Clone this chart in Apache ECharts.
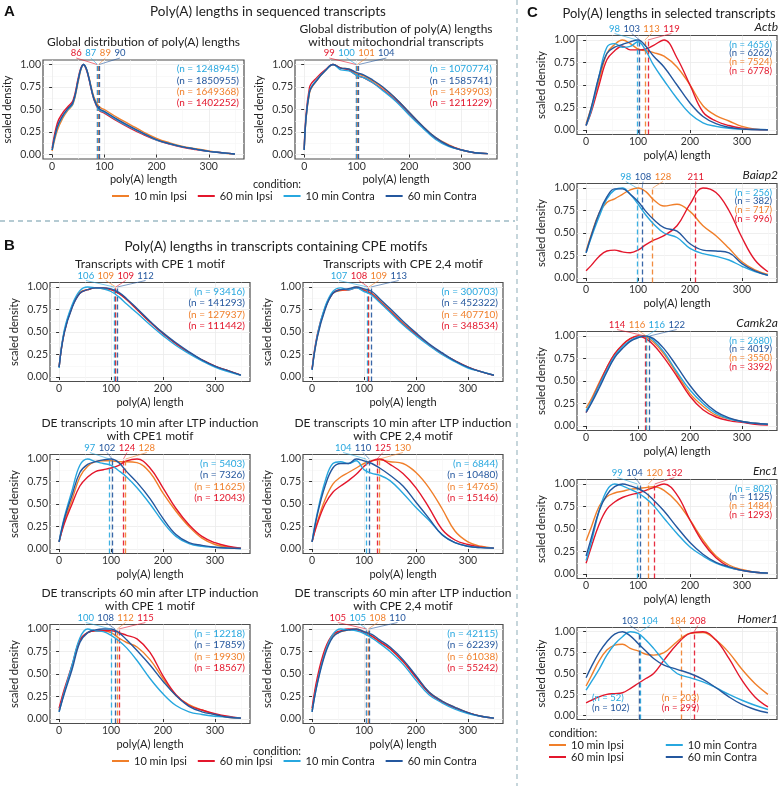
<!DOCTYPE html>
<html>
<head>
<meta charset="utf-8">
<title>Poly(A) lengths</title>
<script src="https://cdn.jsdelivr.net/npm/echarts@6.0.0/dist/echarts.min.js"></script>
<style>
  html, body { margin: 0; padding: 0; background: #fff; }
  #main { width: 782px; height: 786px; }
</style>
</head>
<body>
<div id="main"></div>
<script>
// conditions, in the order used by every array below
var CONDITIONS = ['10 min Ipsi', '60 min Ipsi', '10 min Contra', '60 min Contra'];
var COLORS = ['#F07F2A', '#E3172C', '#27A7DF', '#24579E'];

// poly(A) length grid
var XA1 = [0, 10, 20, 30, 40, 50, 55, 60, 65, 70, 80, 90, 100, 125, 150, 175, 200, 225, 250, 275, 300, 325, 350];
var X = [0, 10, 25, 40, 55, 70, 85, 100, 115, 130, 150, 175, 200, 225, 250, 275, 300, 325, 350];

var Y_TICKS = [0, 0.25, 0.5, 0.75, 1];
var Y_MINOR = [0.125, 0.375, 0.625, 0.875];
var X_TICKS = [0, 100, 200, 300];

// scaled density, rows: 10 Ipsi, 60 Ipsi, 10 Contra, 60 Contra
var globalAll = [
  [0.04, 0.27, 0.40, 0.49, 0.56, 0.81, 0.94, 1.00, 0.96, 0.87, 0.64, 0.53, 0.50, 0.41, 0.33, 0.25, 0.18, 0.13, 0.09, 0.065, 0.04, 0.02, 0.005],
  [0.07, 0.35, 0.46, 0.53, 0.60, 0.85, 0.96, 1.00, 0.95, 0.85, 0.61, 0.49, 0.46, 0.37, 0.29, 0.22, 0.16, 0.115, 0.08, 0.055, 0.035, 0.02, 0.005],
  [0.05, 0.30, 0.42, 0.50, 0.57, 0.83, 0.95, 1.00, 0.96, 0.86, 0.62, 0.50, 0.47, 0.38, 0.30, 0.23, 0.16, 0.12, 0.085, 0.06, 0.035, 0.02, 0.005],
  [0.05, 0.31, 0.43, 0.51, 0.58, 0.83, 0.95, 1.00, 0.96, 0.86, 0.62, 0.51, 0.48, 0.39, 0.31, 0.235, 0.165, 0.12, 0.085, 0.06, 0.035, 0.02, 0.005]
];
var globalNoMito = [
  [0.05, 0.68, 0.83, 0.93, 1.00, 0.96, 0.95, 0.90, 0.87, 0.82, 0.74, 0.62, 0.47, 0.32, 0.19, 0.11, 0.05, 0.02, 0.01],
  [0.06, 0.74, 0.86, 0.94, 1.00, 0.96, 0.94, 0.88, 0.85, 0.80, 0.72, 0.60, 0.45, 0.31, 0.18, 0.10, 0.05, 0.02, 0.01],
  [0.05, 0.70, 0.84, 0.93, 1.00, 0.94, 0.93, 0.88, 0.85, 0.80, 0.71, 0.59, 0.44, 0.30, 0.17, 0.09, 0.05, 0.02, 0.01],
  [0.05, 0.69, 0.83, 0.93, 1.00, 0.96, 0.95, 0.91, 0.88, 0.83, 0.75, 0.62, 0.47, 0.32, 0.19, 0.10, 0.05, 0.02, 0.01]
];
var cpe1 = [
  [0.11, 0.50, 0.78, 0.94, 0.97, 0.99, 0.98, 0.97, 0.93, 0.86, 0.75, 0.61, 0.49, 0.37, 0.27, 0.19, 0.12, 0.07, 0.02],
  [0.11, 0.50, 0.78, 0.93, 0.97, 0.99, 0.99, 0.97, 0.93, 0.86, 0.75, 0.61, 0.48, 0.37, 0.27, 0.19, 0.12, 0.07, 0.02],
  [0.10, 0.52, 0.80, 0.96, 1.00, 0.99, 0.98, 0.95, 0.89, 0.81, 0.71, 0.58, 0.46, 0.35, 0.26, 0.18, 0.11, 0.06, 0.02],
  [0.11, 0.49, 0.77, 0.93, 0.97, 0.99, 0.99, 0.98, 0.94, 0.87, 0.76, 0.62, 0.49, 0.38, 0.28, 0.19, 0.12, 0.07, 0.02]
];
var cpe24 = [
  [0.09, 0.45, 0.76, 0.93, 0.96, 0.97, 1.00, 0.97, 0.93, 0.85, 0.74, 0.60, 0.48, 0.36, 0.26, 0.18, 0.11, 0.06, 0.02],
  [0.09, 0.47, 0.77, 0.93, 0.97, 0.97, 0.99, 0.96, 0.92, 0.84, 0.73, 0.59, 0.47, 0.36, 0.26, 0.18, 0.11, 0.06, 0.02],
  [0.08, 0.46, 0.78, 0.95, 0.99, 0.97, 0.99, 0.95, 0.91, 0.83, 0.72, 0.58, 0.46, 0.35, 0.25, 0.17, 0.10, 0.06, 0.02],
  [0.08, 0.44, 0.75, 0.93, 0.97, 0.98, 1.00, 0.98, 0.95, 0.87, 0.76, 0.62, 0.49, 0.37, 0.27, 0.18, 0.11, 0.06, 0.02]
];
var de10cpe1 = [
  [0.08, 0.30, 0.55, 0.80, 0.92, 0.97, 0.98, 0.98, 0.97, 0.97, 0.96, 0.85, 0.62, 0.42, 0.25, 0.12, 0.05, 0.02, 0.01],
  [0.08, 0.28, 0.50, 0.70, 0.80, 0.86, 0.88, 0.90, 0.93, 0.98, 1.00, 0.90, 0.68, 0.45, 0.27, 0.14, 0.07, 0.03, 0.01],
  [0.08, 0.35, 0.65, 0.93, 1.00, 0.97, 0.95, 0.93, 0.87, 0.80, 0.68, 0.50, 0.30, 0.14, 0.06, 0.03, 0.02, 0.01, 0.005],
  [0.08, 0.33, 0.60, 0.85, 0.94, 0.97, 0.99, 1.00, 0.96, 0.86, 0.74, 0.56, 0.34, 0.16, 0.07, 0.04, 0.02, 0.01, 0.005]
];
var de10cpe24 = [
  [0.08, 0.30, 0.55, 0.72, 0.80, 0.85, 0.90, 0.95, 0.98, 0.99, 0.97, 0.95, 0.85, 0.68, 0.45, 0.20, 0.08, 0.03, 0.01],
  [0.08, 0.28, 0.50, 0.63, 0.70, 0.76, 0.83, 0.92, 0.98, 1.00, 0.94, 0.84, 0.68, 0.46, 0.22, 0.10, 0.05, 0.02, 0.01],
  [0.08, 0.40, 0.75, 0.95, 0.97, 0.95, 0.98, 0.88, 0.84, 0.82, 0.76, 0.62, 0.46, 0.32, 0.16, 0.07, 0.03, 0.015, 0.01],
  [0.08, 0.38, 0.70, 0.90, 0.95, 0.95, 1.00, 0.98, 0.95, 0.90, 0.82, 0.70, 0.52, 0.34, 0.16, 0.07, 0.03, 0.015, 0.01]
];
var de60cpe1 = [
  [0.10, 0.30, 0.58, 0.87, 0.96, 0.98, 0.98, 0.96, 0.90, 0.85, 0.80, 0.66, 0.45, 0.26, 0.16, 0.10, 0.05, 0.02, 0.01],
  [0.12, 0.33, 0.60, 0.88, 0.96, 0.98, 0.98, 0.98, 0.96, 0.93, 0.89, 0.74, 0.48, 0.27, 0.15, 0.10, 0.06, 0.03, 0.01],
  [0.08, 0.30, 0.60, 0.90, 1.00, 0.98, 0.97, 0.93, 0.87, 0.79, 0.65, 0.45, 0.28, 0.15, 0.08, 0.05, 0.03, 0.02, 0.01],
  [0.08, 0.28, 0.55, 0.85, 0.96, 0.99, 1.00, 1.00, 0.96, 0.88, 0.76, 0.60, 0.42, 0.26, 0.14, 0.08, 0.05, 0.02, 0.01]
];
var de60cpe24 = [
  [0.10, 0.42, 0.75, 0.92, 0.97, 0.99, 1.00, 0.97, 0.92, 0.86, 0.78, 0.64, 0.47, 0.30, 0.20, 0.13, 0.07, 0.03, 0.01],
  [0.12, 0.46, 0.78, 0.94, 0.98, 1.00, 0.99, 0.96, 0.92, 0.86, 0.78, 0.64, 0.46, 0.29, 0.19, 0.12, 0.07, 0.03, 0.01],
  [0.08, 0.40, 0.74, 0.94, 1.00, 0.99, 0.98, 0.95, 0.90, 0.84, 0.75, 0.61, 0.43, 0.27, 0.18, 0.11, 0.06, 0.03, 0.01],
  [0.08, 0.39, 0.72, 0.91, 0.97, 0.99, 1.00, 0.97, 0.94, 0.88, 0.80, 0.66, 0.48, 0.30, 0.20, 0.13, 0.07, 0.03, 0.01]
];
var actb = [
  [0.07, 0.25, 0.55, 0.85, 0.95, 1.00, 0.96, 0.90, 0.88, 0.86, 0.82, 0.70, 0.50, 0.27, 0.16, 0.10, 0.04, 0.01, 0.003],
  [0.05, 0.20, 0.50, 0.78, 0.88, 0.93, 0.89, 0.89, 0.90, 0.94, 1.00, 0.80, 0.50, 0.20, 0.10, 0.05, 0.02, 0.005, 0.003],
  [0.05, 0.22, 0.60, 0.92, 0.96, 0.92, 0.93, 0.98, 0.88, 0.72, 0.55, 0.35, 0.18, 0.08, 0.04, 0.02, 0.01, 0.005, 0.003],
  [0.05, 0.25, 0.60, 0.85, 0.92, 0.95, 0.98, 1.00, 0.93, 0.82, 0.70, 0.50, 0.30, 0.15, 0.07, 0.03, 0.01, 0.005, 0.003]
];
var baiap2 = [
  [0.30, 0.48, 0.72, 0.84, 0.88, 0.93, 0.98, 1.00, 0.96, 0.87, 0.80, 0.82, 0.74, 0.58, 0.47, 0.33, 0.18, 0.09, 0.04],
  [0.08, 0.14, 0.24, 0.30, 0.31, 0.29, 0.28, 0.31, 0.37, 0.42, 0.47, 0.58, 0.82, 1.00, 0.95, 0.75, 0.45, 0.20, 0.07],
  [0.28, 0.45, 0.68, 0.88, 0.98, 1.00, 0.93, 0.82, 0.70, 0.60, 0.50, 0.45, 0.33, 0.27, 0.24, 0.20, 0.13, 0.07, 0.03],
  [0.28, 0.47, 0.72, 0.90, 0.99, 0.99, 0.93, 0.85, 0.74, 0.65, 0.56, 0.52, 0.38, 0.31, 0.30, 0.28, 0.16, 0.08, 0.03]
];
var camk2a = [
  [0.20, 0.30, 0.48, 0.65, 0.80, 0.90, 0.97, 1.00, 0.99, 0.93, 0.80, 0.58, 0.36, 0.22, 0.12, 0.08, 0.05, 0.03, 0.02],
  [0.15, 0.27, 0.46, 0.65, 0.80, 0.90, 0.97, 1.00, 0.97, 0.90, 0.76, 0.55, 0.33, 0.18, 0.10, 0.06, 0.04, 0.02, 0.01],
  [0.17, 0.27, 0.45, 0.62, 0.78, 0.88, 0.95, 0.99, 1.00, 0.95, 0.82, 0.60, 0.40, 0.25, 0.14, 0.08, 0.05, 0.03, 0.02],
  [0.15, 0.25, 0.42, 0.60, 0.76, 0.86, 0.94, 0.98, 1.00, 0.97, 0.86, 0.66, 0.45, 0.28, 0.16, 0.09, 0.05, 0.03, 0.02]
];
var enc1 = [
  [0.37, 0.52, 0.75, 0.86, 0.90, 0.92, 0.94, 0.95, 0.96, 0.97, 0.93, 0.80, 0.60, 0.38, 0.20, 0.10, 0.05, 0.02, 0.01],
  [0.12, 0.30, 0.55, 0.72, 0.80, 0.85, 0.88, 0.90, 0.93, 0.96, 1.00, 0.88, 0.60, 0.35, 0.18, 0.08, 0.04, 0.02, 0.01],
  [0.15, 0.35, 0.70, 0.93, 1.00, 0.98, 0.94, 0.90, 0.84, 0.76, 0.62, 0.45, 0.30, 0.20, 0.12, 0.07, 0.04, 0.02, 0.01],
  [0.20, 0.40, 0.70, 0.88, 0.97, 1.00, 0.98, 0.95, 0.90, 0.82, 0.70, 0.52, 0.35, 0.22, 0.13, 0.08, 0.04, 0.02, 0.01]
];
var homer1 = [
  [0.35, 0.47, 0.65, 0.78, 0.84, 0.85, 0.80, 0.77, 0.73, 0.72, 0.75, 0.88, 0.98, 0.99, 0.90, 0.75, 0.55, 0.38, 0.25],
  [0.15, 0.18, 0.22, 0.25, 0.26, 0.27, 0.32, 0.38, 0.44, 0.50, 0.66, 0.85, 0.98, 1.00, 0.90, 0.68, 0.42, 0.22, 0.10],
  [0.30, 0.40, 0.55, 0.72, 0.85, 0.94, 1.00, 0.98, 0.90, 0.80, 0.65, 0.50, 0.45, 0.40, 0.33, 0.25, 0.18, 0.12, 0.07],
  [0.45, 0.58, 0.75, 0.88, 0.97, 1.00, 0.95, 0.86, 0.77, 0.68, 0.60, 0.55, 0.50, 0.43, 0.33, 0.22, 0.13, 0.07, 0.03]
];

// median poly(A) length per condition
var medGlobalAll = [89, 86, 87, 90];
var medGlobalNoMito = [101, 99, 100, 104];
var medCpe1 = [109, 109, 106, 112];
var medCpe24 = [109, 108, 107, 113];
var medDe10cpe1 = [128, 124, 97, 102];
var medDe10cpe24 = [130, 125, 104, 110];
var medDe60cpe1 = [112, 115, 100, 108];
var medDe60cpe24 = [108, 105, 105, 110];
var medActb = [113, 119, 98, 103];
var medBaiap2 = [128, 211, 98, 108];
var medCamk2a = [116, 114, 116, 122];
var medEnc1 = [120, 132, 99, 104];
var medHomer1 = [184, 208, 104, 103];

// number of reads per condition
var nGlobalAll = [1649368, 1402252, 1248945, 1850955];
var nGlobalNoMito = [1439903, 1211229, 1070774, 1585741];
var nCpe1 = [127937, 111442, 93416, 141293];
var nCpe24 = [407710, 348534, 300703, 452322];
var nDe10cpe1 = [11625, 12043, 5403, 7326];
var nDe10cpe24 = [14765, 15146, 6844, 10480];
var nDe60cpe1 = [19930, 18567, 12218, 17859];
var nDe60cpe24 = [61038, 55242, 42115, 62239];
var nActb = [7524, 6778, 4656, 6262];
var nBaiap2 = [717, 996, 256, 382];
var nCamk2a = [3550, 3392, 2680, 4019];
var nEnc1 = [1484, 1293, 802, 1125];
var nHomer1 = [203, 299, 52, 102];

var FONT = 'Lato, "Noto Sans", sans-serif';
var C_LEFT = 577, C_W = 200;

var panels = [
  { xs: XA1, ys: globalAll, med: medGlobalAll, n: nGlobalAll, title: ['Global distribution of poly(A) lengths'], box: [43, 60, 201, 99] },
  { xs: X, ys: globalNoMito, med: medGlobalNoMito, n: nGlobalNoMito, title: ['Global distribution of poly(A) lengths', 'without mitochondrial transcripts'], box: [295, 60, 202, 99] },
  { xs: X, ys: cpe1, med: medCpe1, n: nCpe1, title: ['Transcripts with CPE 1 motif'], box: [50, 282.5, 200, 99] },
  { xs: X, ys: cpe24, med: medCpe24, n: nCpe24, title: ['Transcripts with CPE 2,4 motif'], box: [303, 282.5, 200, 99] },
  { xs: X, ys: de10cpe1, med: medDe10cpe1, n: nDe10cpe1, title: ['DE transcripts 10 min after LTP induction', 'with CPE1 motif'], box: [50, 454.5, 200, 99] },
  { xs: X, ys: de10cpe24, med: medDe10cpe24, n: nDe10cpe24, title: ['DE transcripts 10 min after LTP induction', 'with CPE 2,4 motif'], box: [303, 454.5, 200, 99] },
  { xs: X, ys: de60cpe1, med: medDe60cpe1, n: nDe60cpe1, title: ['DE transcripts 60 min after LTP induction', 'with CPE 1 motif'], box: [50, 624.5, 200, 99] },
  { xs: X, ys: de60cpe24, med: medDe60cpe24, n: nDe60cpe24, title: ['DE transcripts 60 min after LTP induction', 'with CPE 2,4 motif'], box: [303, 624.5, 200, 99] },
  { xs: X, ys: actb, med: medActb, n: nActb, gene: 'Actb', box: [C_LEFT, 35.5, C_W, 99], small: true },
  { xs: X, ys: baiap2, med: medBaiap2, n: nBaiap2, gene: 'Baiap2', box: [C_LEFT, 183.5, C_W, 99], small: true },
  { xs: X, ys: camk2a, med: medCamk2a, n: nCamk2a, gene: 'Camk2a', box: [C_LEFT, 331.5, C_W, 99], small: true },
  { xs: X, ys: enc1, med: medEnc1, n: nEnc1, gene: 'Enc1', box: [C_LEFT, 479.5, C_W, 99], small: true },
  { xs: X, ys: homer1, med: medHomer1, n: nHomer1, gene: 'Homer1', box: [C_LEFT, 627.5, C_W, 92], small: true, noX: true, nBottom: true }
];

var chart = echarts.init(document.getElementById('main'), null, { renderer: 'canvas' });

var grids = [], xAxes = [], yAxes = [], series = [];
var tickStyle = { color: '#333', width: 1 };

panels.forEach(function (p, i) {
  grids.push({
    left: p.box[0], top: p.box[1], width: p.box[2], height: p.box[3],
    show: true, borderColor: '#4d4d4d', borderWidth: 1.2, backgroundColor: '#fff'
  });
  xAxes.push({
    gridIndex: i, type: 'value', min: -17.5, max: 367.5,
    name: p.noX ? '' : 'poly(A) length', nameLocation: 'middle', nameGap: 15,
    nameTextStyle: { fontFamily: FONT, fontSize: 11, color: '#222' },
    axisLine: { show: false },
    axisTick: { show: !p.noX, length: 3, lineStyle: tickStyle, customValues: X_TICKS },
    axisLabel: { show: !p.noX, customValues: X_TICKS, fontFamily: FONT, fontSize: 10.5, color: '#333', margin: 2 },
    splitLine: { show: true, lineStyle: { color: '#EBEBEB', width: 0.8 } },
    minorTick: { show: false, splitNumber: 2 },
    minorSplitLine: { show: true, lineStyle: { color: '#F5F5F5', width: 0.6 } }
  });
  yAxes.push({
    gridIndex: i, type: 'value', min: -0.05, max: 1.05,
    name: 'scaled density', nameLocation: 'middle', nameGap: 30,
    nameTextStyle: { fontFamily: FONT, fontSize: 11, color: '#222' },
    axisLine: { show: false },
    axisTick: { length: 3, lineStyle: tickStyle, customValues: Y_TICKS },
    axisLabel: {
      customValues: Y_TICKS, fontFamily: FONT, fontSize: 10.5, color: '#333', margin: 2,
      formatter: function (v) { return v.toFixed(2); }
    },
    splitLine: { show: true, lineStyle: { color: '#EBEBEB', width: 0.8 } }
  });
  // second axis only to carry the minor horizontal grid lines
  yAxes.push({
    gridIndex: i, type: 'value', min: -0.05, max: 1.05, position: 'left',
    axisLine: { show: false },
    axisTick: { show: false, customValues: Y_MINOR },
    axisLabel: { show: false, customValues: Y_MINOR },
    splitLine: { show: true, lineStyle: { color: '#F5F5F5', width: 0.6 } }
  });

  p.ys.forEach(function (vals, k) {
    series.push({
      type: 'line', name: CONDITIONS[k], xAxisIndex: i, yAxisIndex: 2 * i,
      data: p.xs.map(function (x, j) { return [x, vals[j]]; }),
      smooth: 0.4, symbol: 'none', z: 3 + k,
      lineStyle: { width: 1.4, color: COLORS[k] },
      itemStyle: { color: COLORS[k] },
      markLine: {
        silent: true, symbol: ['none', 'none'], label: { show: false },
        lineStyle: { type: [5, 3], width: 1.3, color: COLORS[k], opacity: 0.9 },
        data: [[{ coord: [p.med[k], -0.05] }, { coord: [p.med[k], 1] }]]
      }
    });
  });
});

var legendBase = {
  itemWidth: 17, itemHeight: 2, icon: 'rect', padding: 0, itemGap: 11,
  textStyle: { fontFamily: FONT, fontSize: 11, color: '#222' }
};
function legendAt(data, left, top, gap) {
  return Object.assign({}, legendBase, { data: data, left: left, top: top, itemGap: gap || 11 });
}

chart.setOption({
  animation: false,
  backgroundColor: '#fff',
  grid: grids,
  xAxis: xAxes,
  yAxis: yAxes,
  series: series,
  legend: [
    legendAt(CONDITIONS, 112, 190.5),
    legendAt(CONDITIONS, 112, 755.5),
    legendAt([CONDITIONS[0], CONDITIONS[2]], 549, 739.5, 42),
    legendAt([CONDITIONS[1], CONDITIONS[3]], 549, 751.5, 42)
  ]
});

// ---- annotations -------------------------------------------------------
var els = [];
function text(x, y, str, font, fill, align) {
  els.push({
    type: 'text', x: x, y: y, silent: true, z: 50,
    style: { text: str, font: font, fill: fill || '#222', align: align || 'center', verticalAlign: 'middle',
             textAlign: align || 'center', textVerticalAlign: 'middle' }
  });
}
function line(x1, y1, x2, y2, stroke, w, dash) {
  els.push({
    type: 'line', silent: true, z: 40,
    shape: { x1: x1, y1: y1, x2: x2, y2: y2 },
    style: { stroke: stroke, lineWidth: w, lineDash: dash || null }
  });
}

// spread median labels so they don't collide
function spread(ideal, gaps) {
  var p = ideal.slice();
  for (var it = 0; it < 200; it++) {
    var moved = false;
    for (var i = 1; i < p.length; i++) {
      var d = p[i] - p[i - 1];
      if (d < gaps[i] - 0.01) {
        var s = (gaps[i] - d) / 2;
        p[i - 1] -= s; p[i] += s; moved = true;
      }
    }
    if (!moved) break;
  }
  return p;
}

panels.forEach(function (p, i) {
  var left = p.box[0], top = p.box[1], right = p.box[0] + p.box[2], bottom = p.box[1] + p.box[3];
  var cx = left + p.box[2] / 2;
  if (p.title) {
    if (p.title.length === 2) {
      text(cx, top - 31, p.title[0], '12px ' + FONT);
      text(cx, top - 18, p.title[1], '12px ' + FONT);
    } else {
      text(cx, top - 18, p.title[0], '12px ' + FONT);
    }
  }
  if (p.gene) text(right + 1, top - 8, p.gene, 'italic 12px ' + FONT, '#222', 'right');

  // median labels with leader lines
  var order = [0, 1, 2, 3].sort(function (a, b) { return p.med[a] - p.med[b]; });
  var ideal = order.map(function (k) { return chart.convertToPixel({ gridIndex: i }, [p.med[k], 1])[0]; });
  var widths = order.map(function (k) { return String(p.med[k]).length * 5.3; });
  var gaps = widths.map(function (w, j) { return j === 0 ? 0 : (w + widths[j - 1]) / 2 + 4; });
  var pos = spread(ideal, gaps);
  var yTop = chart.convertToPixel({ gridIndex: i }, [0, 1])[1];
  order.forEach(function (k, j) {
    text(pos[j], top - 7, String(p.med[k]), '9.5px ' + FONT, COLORS[k]);
    line(pos[j], top - 2, ideal[j], yTop, COLORS[k], 0.6);
  });

  // read counts
  var nOrder = [2, 3, 0, 1];
  var fs = p.small ? '9.5px ' : '10px ';
  var pitch = p.small ? 8.8 : 11.4;
  if (p.nBottom) {
    text(left + 15, bottom - 22, '(n = ' + p.n[2] + ')', fs + FONT, COLORS[2], 'left');
    text(left + 15, bottom - 12, '(n = ' + p.n[3] + ')', fs + FONT, COLORS[3], 'left');
    text(right - 78, bottom - 22, '(n = ' + p.n[0] + ')', fs + FONT, COLORS[0], 'right');
    text(right - 78, bottom - 12, '(n = ' + p.n[1] + ')', fs + FONT, COLORS[1], 'right');
  } else {
    nOrder.forEach(function (k, j) {
      text(right - 5, top + 9 + j * pitch, '(n = ' + p.n[k] + ')', fs + FONT, COLORS[k], 'right');
    });
  }
});

// panel letters and section titles
text(4, 12, 'A', 'bold 15px Arial, "Liberation Sans", sans-serif', '#111', 'left');
text(4, 246, 'B', 'bold 15px Arial, "Liberation Sans", sans-serif', '#111', 'left');
text(527, 13, 'C', 'bold 15px Arial, "Liberation Sans", sans-serif', '#111', 'left');
text(268, 12, 'Poly(A) lengths in sequenced transcripts', '13.5px ' + FONT);
text(276, 247, 'Poly(A) lengths in transcripts containing CPE motifs', '13.5px ' + FONT);
text(669, 14, 'Poly(A) lengths in selected transcripts', '13px ' + FONT);
text(277, 184, 'condition:', '11px ' + FONT);
text(277, 751, 'condition:', '11px ' + FONT);
text(549, 733, 'condition:', '11px ' + FONT, '#222', 'left');

// dashed separators
line(0, 221, 515, 221, '#9DBAC5', 1.3, [5, 4]);
line(517, 0, 517, 786, '#A9C0C9', 1.3, [5, 4]);

chart.setOption({ graphic: { elements: els } });
</script>
</body>
</html>
